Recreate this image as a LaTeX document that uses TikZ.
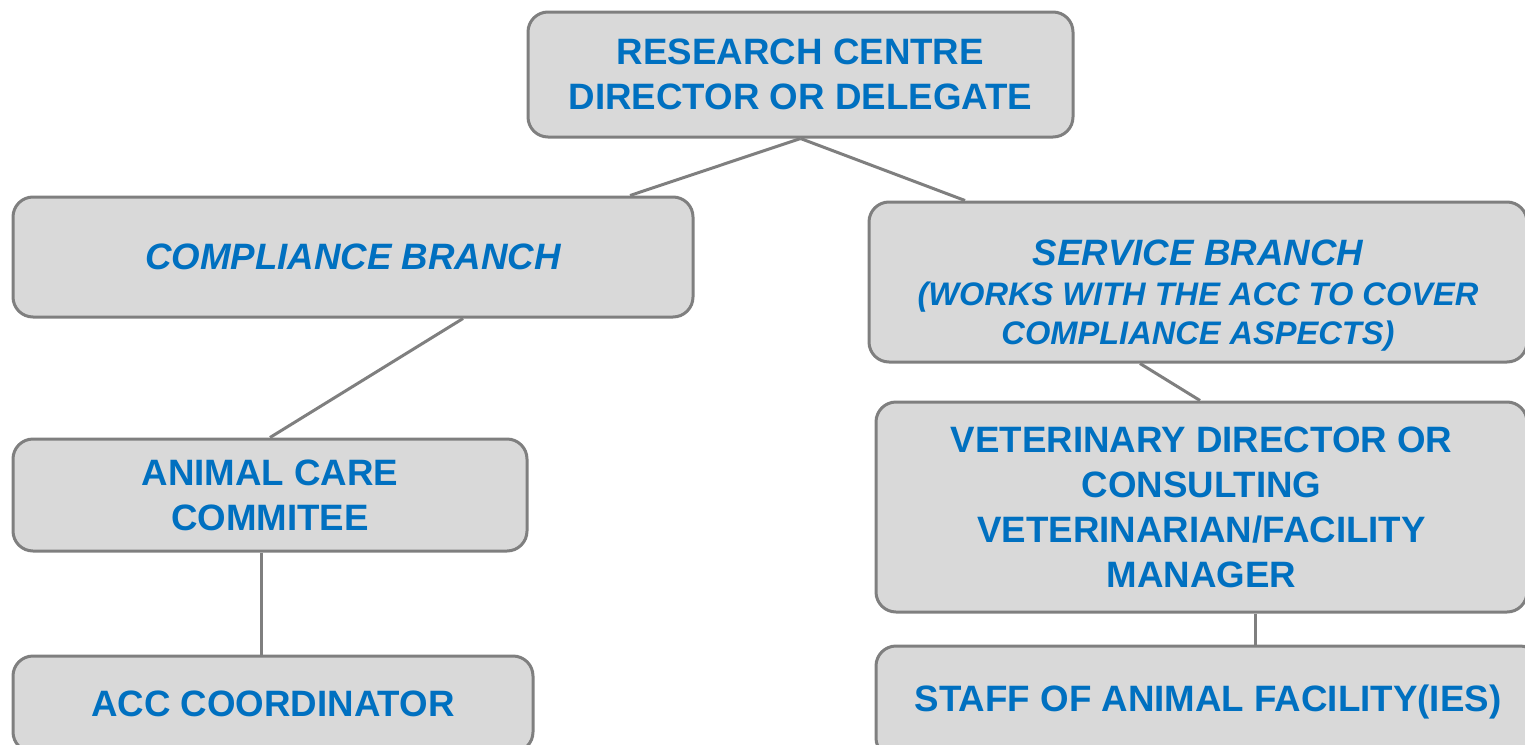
\documentclass[tikz,border=0pt]{standalone}
\usepackage{fontspec}
\setmainfont{Liberation Sans}
\definecolor{boxfill}{HTML}{D9D9D9}
\definecolor{boxline}{HTML}{7F7F7F}
\definecolor{textblue}{HTML}{0070C0}
\newcommand{\notefont}{\fontsize{32.6}{38}\selectfont}
\tikzset{
    orgbox/.style={draw=boxline, fill=boxfill, line width=3pt, rounded corners=20pt,
        text=textblue, align=center, inner sep=0pt,
        font=\bfseries\fontsize{36.7}{45}\selectfont},
    branchbox/.style={orgbox, font=\bfseries\itshape\fontsize{36.7}{45}\selectfont},
    link/.style={draw=boxline, line width=3pt}
}
\begin{document}
\begin{tikzpicture}[x=1pt, y=-1pt]
    \clip (0,0) rectangle (1525,744);
    \useasboundingbox (0,0) rectangle (1525,744);

    % Boxes of the chart
    \node[orgbox, minimum width=545pt, minimum height=125pt] (director) at (800.5,74.5)
        {RESEARCH CENTRE\\DIRECTOR OR DELEGATE};
    \node[branchbox, minimum width=680pt, minimum height=120pt] (compliance) at (353,257)
        {COMPLIANCE BRANCH};
    \node[branchbox, minimum width=658pt, minimum height=160pt] (service) at (1198,282)
        {\rule{0pt}{52pt}SERVICE BRANCH\\[-5pt]{\notefont (WORKS WITH THE ACC TO COVER}\\[-6pt]{\notefont COMPLIANCE ASPECTS)}};
    \node[orgbox, minimum width=514pt, minimum height=112pt] (committee) at (270,495)
        {ANIMAL CARE\\COMMITEE};
    \node[orgbox, minimum width=520pt, minimum height=96pt] (coordinator) at (273,704)
        {ACC COORDINATOR};
    \node[orgbox, minimum width=651pt, minimum height=210pt] (vet) at (1201.5,507)
        {VETERINARY DIRECTOR OR\\CONSULTING\\VETERINARIAN/FACILITY\\MANAGER};
    \node[orgbox, minimum width=664pt, minimum height=112pt] (staff) at (1208,702)
        {STAFF OF ANIMAL FACILITY(IES)};

    % Connectors between the boxes
    \draw[link] (director.south) -- ([xshift=277pt]compliance.north);
    \draw[link] (director.south) -- ([xshift=-233pt]service.north);
    \draw[link] ([xshift=110pt]compliance.south) -- (committee.north);
    \draw[link] ([xshift=-58pt]service.south) -- ([xshift=-1.5pt]vet.north);
    \draw[link] ([xshift=-9pt]committee.south) -- ([xshift=-12pt]coordinator.north);
    \draw[link] ([xshift=53.5pt]vet.south) -- ([xshift=47pt]staff.north);
\end{tikzpicture}
\end{document}
